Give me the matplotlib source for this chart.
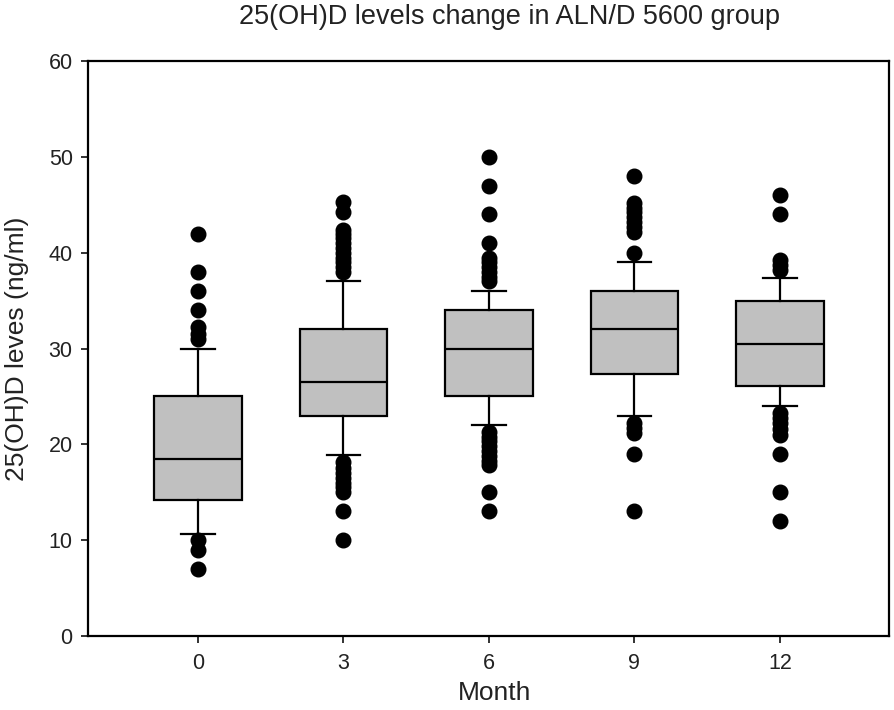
import matplotlib
matplotlib.use("Agg")
import matplotlib.pyplot as plt

plt.rcParams['font.family'] = ['Liberation Sans', 'DejaVu Sans']

# data
months = ['0', '3', '6', '9', '12']
q1 = [14.2, 23.0, 25.0, 27.3, 26.1]
med = [18.5, 26.5, 30.0, 32.0, 30.5]
q3 = [25.0, 32.0, 34.0, 36.0, 35.0]
whislo = [10.6, 18.9, 22.0, 23.0, 24.0]
whishi = [30.0, 37.0, 36.0, 39.0, 37.4]
outliers = [
    [42, 38, 36, 34, 32.2, 31.5, 31, 10, 9, 7],
    [45.3, 44.2, 42.4, 42, 41.5, 41, 40.5, 40, 39.5, 39, 38.5, 38,
     18.2, 17.5, 17, 16.5, 16, 15.5, 15, 13, 10],
    [50, 47, 44, 41, 39.5, 39, 38.5, 38, 37.5, 37,
     21.3, 20.8, 20.3, 19.8, 19.3, 18.8, 18.3, 17.8, 15, 13],
    [48, 45.2, 44.7, 44.2, 43.7, 43.2, 42.7, 42.2, 40, 22.2, 21.7, 21.2, 19, 13],
    [46, 44, 39.2, 38.7, 38.2, 23.3, 22.8, 22.2, 21.6, 21, 19, 15, 12],
]

stats = []
for i in range(len(months)):
    stats.append(dict(q1=q1[i], med=med[i], q3=q3[i], whislo=whislo[i],
                      whishi=whishi[i], fliers=outliers[i]))

fig = plt.figure(figsize=(8.94, 7.1), dpi=100)
ax = fig.add_axes([0.0984, 0.1042, 0.896, 0.8098])

ax.bxp(stats, positions=range(len(months)), widths=0.6, capwidths=0.23,
       patch_artist=True,
       boxprops=dict(facecolor='#c0c0c0', edgecolor='black', linewidth=1.6),
       medianprops=dict(color='black', linewidth=1.6),
       whiskerprops=dict(color='black', linewidth=1.6),
       capprops=dict(color='black', linewidth=1.6),
       flierprops=dict(marker='o', markerfacecolor='black', markeredgecolor='black',
                       markersize=10.5))

ax.set_xlim(-0.756, 4.75)
ax.set_ylim(0, 60)
ax.set_xticks(range(len(months)))
ax.set_xticklabels(months)
ax.set_yticks(range(0, 61, 10))

for s in ax.spines.values():
    s.set_linewidth(1.6)
ax.tick_params(axis='both', direction='out', length=5, width=1.3, labelsize=15.5,
               top=False, right=False, colors='#222222', labelcolor='#222222')
ax.tick_params(axis='x', pad=7)
ax.tick_params(axis='y', pad=6)

ax.set_xlabel('Month', fontsize=19, color='#222222')
ax.set_ylabel('25(OH)D leves (ng/ml)', fontsize=19, color='#222222')
ax.xaxis.set_label_coords(0.508, -0.078)
ax.yaxis.set_label_coords(-0.074, 0.5)
fig.suptitle('25(OH)D levels change in ALN/D 5600 group', fontsize=19.5,
             x=0.57, y=0.995, color='#222222')

fig.savefig('out.png', dpi=100)
